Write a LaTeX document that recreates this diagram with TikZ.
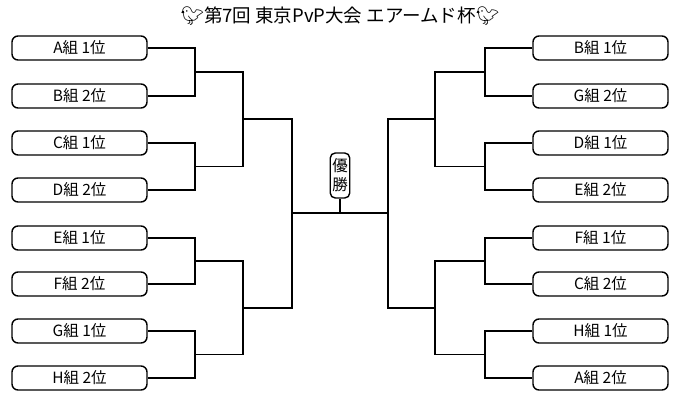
\documentclass[tikz,border=0pt]{standalone}
\usepackage{fontspec}
\setmainfont{Noto Sans CJK JP}
\newfontfamily\emo{Noto Emoji}
\begin{document}
\begin{tikzpicture}[x=1pt,y=-1pt,
  team/.style={draw,line width=1.4pt,rounded corners=6pt,minimum width=135pt,minimum height=24pt,inner sep=0pt,font=\fontsize{15.5}{17}\selectfont},
  ln/.style={line width=1.4pt}]
\useasboundingbox (0,0) rectangle (680,405);
\node (title) at (340,16) {\fontsize{18.5}{20}\selectfont{\emo 🐦}第7回 東京PvP大会 エアームド杯{\emo 🐦}};
\foreach \n/\t/\y in {L1/A組 1位/48,L2/B組 2位/96,L3/C組 1位/143,L4/D組 2位/190,L5/E組 1位/238,L6/F組 2位/284,L7/G組 1位/331,L8/H組 2位/378}
  \node[team] (\n) at (79.5,\y) {\t};
\foreach \n/\t/\y in {R1/B組 1位/48,R2/G組 2位/96,R3/D組 1位/143,R4/E組 2位/190,R5/F組 1位/238,R6/C組 2位/284,R7/H組 1位/331,R8/A組 2位/378}
  \node[team] (\n) at (600.5,\y) {\t};
\node[draw,line width=1.4pt,rounded corners=5pt,inner sep=2pt,align=center,font=\fontsize{15.5}{19}\selectfont,minimum height=45pt] (win) at (340,175.5) {優\\勝};
% junction coordinates
\coordinate (la) at (195,72);  \coordinate (lb) at (195,166.5);
\coordinate (lc) at (195,261); \coordinate (ld) at (195,354.5);
\coordinate (lab) at (243,119); \coordinate (lcd) at (243,308);
\coordinate (lf) at (292,213);
\coordinate (ra) at (485,72);  \coordinate (rb) at (485,166.5);
\coordinate (rc) at (485,261); \coordinate (rd) at (485,354.5);
\coordinate (rab) at (435,119); \coordinate (rcd) at (435,308);
\coordinate (rf) at (388,213);
\coordinate (fin) at (340,213);
% left
\draw[ln] (L1.east) -| (la) |- (L2.east);
\draw[ln] (L3.east) -| (lb) |- (L4.east);
\draw[ln] (L5.east) -| (lc) |- (L6.east);
\draw[ln] (L7.east) -| (ld) |- (L8.east);
\draw[ln] (la) -| (lab) |- (lb);
\draw[ln] (lc) -| (lcd) |- (ld);
\draw[ln] (lab) -| (lf) |- (lcd);
% right
\draw[ln] (R1.west) -| (ra) |- (R2.west);
\draw[ln] (R3.west) -| (rb) |- (R4.west);
\draw[ln] (R5.west) -| (rc) |- (R6.west);
\draw[ln] (R7.west) -| (rd) |- (R8.west);
\draw[ln] (ra) -| (rab) |- (rb);
\draw[ln] (rc) -| (rcd) |- (rd);
\draw[ln] (rab) -| (rf) |- (rcd);
% final
\draw[ln] (lf) -- (rf);
\draw[ln] (win.south) -- (fin);
\end{tikzpicture}
\end{document}
